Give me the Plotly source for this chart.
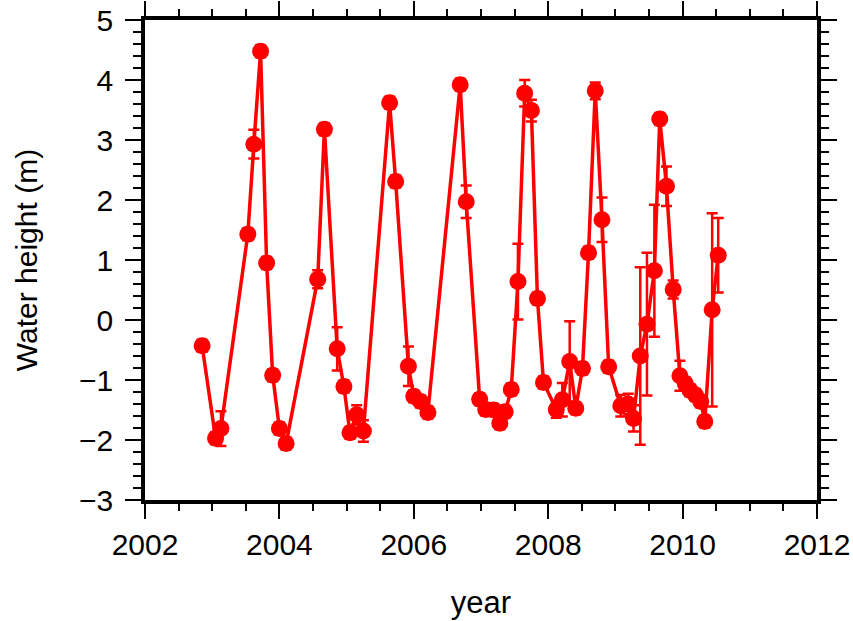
import plotly.graph_objects as go

years = [2002.85, 2003.05, 2003.13, 2003.53, 2003.62, 2003.72, 2003.81, 2003.90, 2004.00, 2004.10,
         2004.57, 2004.67, 2004.86, 2004.96, 2005.05, 2005.15, 2005.25, 2005.64, 2005.73, 2005.92,
         2006.00, 2006.10, 2006.21, 2006.69, 2006.78, 2006.98, 2007.07, 2007.19, 2007.28, 2007.36,
         2007.45, 2007.55, 2007.65, 2007.75, 2007.84, 2007.93, 2008.12, 2008.21, 2008.32, 2008.41,
         2008.51, 2008.60, 2008.70, 2008.80, 2008.90, 2009.08, 2009.19, 2009.27, 2009.37, 2009.47,
         2009.58, 2009.66, 2009.76, 2009.86, 2009.96, 2010.04, 2010.11, 2010.19, 2010.27, 2010.33,
         2010.44, 2010.53]

heights = [-0.43, -1.97, -1.81, 1.43, 2.93, 4.48, 0.95, -0.92, -1.81, -2.06,
           0.68, 3.18, -0.48, -1.11, -1.88, -1.58, -1.85, 3.62, 2.31, -0.77,
           -1.27, -1.36, -1.54, 3.92, 1.97, -1.32, -1.49, -1.50, -1.72, -1.53,
           -1.16, 0.64, 3.78, 3.49, 0.36, -1.04, -1.49, -1.33, -0.69, -1.47,
           -0.81, 1.12, 3.82, 1.67, -0.78, -1.43, -1.40, -1.64, -0.60, -0.07,
           0.82, 3.35, 2.23, 0.51, -0.93, -1.06, -1.17, -1.25, -1.36, -1.69,
           0.17, 1.08]

errors = [0.10, 0.10, 0.29, 0.10, 0.24, 0.10, 0.10, 0.10, 0.10, 0.10,
          0.15, 0.10, 0.36, 0.10, 0.10, 0.16, 0.18, 0.10, 0.10, 0.33,
          0.10, 0.10, 0.10, 0.10, 0.27, 0.10, 0.10, 0.10, 0.10, 0.10,
          0.10, 0.63, 0.22, 0.18, 0.10, 0.10, 0.14, 0.28, 0.67, 0.10,
          0.10, 0.10, 0.14, 0.37, 0.10, 0.18, 0.17, 0.22, 1.48, 1.19,
          1.10, 0.10, 0.33, 0.15, 0.25, 0.10, 0.10, 0.10, 0.10, 0.10,
          1.61, 0.62]

x_ticks = [2002, 2004, 2006, 2008, 2010, 2012]
y_ticks = [-3, -2, -1, 0, 1, 2, 3, 4, 5]

red = "rgb(255,0,0)"

fig = go.Figure()
fig.add_trace(go.Scatter(
    x=years, y=heights, mode="lines+markers",
    line=dict(color=red, width=3.5),
    marker=dict(color=red, size=17),
    error_y=dict(type="data", array=errors, visible=True, color=red, thickness=2.5, width=5.5),
    showlegend=False,
))

font_family = "Liberation Sans, Arial, sans-serif"

fig.update_layout(
    width=853, height=621,
    margin=dict(l=145, r=36, t=20, b=121),
    paper_bgcolor="white", plot_bgcolor="white",
    font=dict(family=font_family, color="black", size=30),
)
fig.update_xaxes(
    range=[2002, 2012], tickvals=x_ticks, ticktext=[str(v) for v in x_ticks],
    showgrid=False, zeroline=False, automargin=False,
    showline=True, linecolor="black", linewidth=3.5, mirror="ticks",
    ticks="outside", ticklen=15, tickwidth=2, tickcolor="black",
    minor=dict(dtick=0.5, ticks="outside", ticklen=7, tickwidth=2, tickcolor="black", showgrid=False),
    tickfont=dict(size=30), ticklabelstandoff=0,
    title=dict(text="year", font=dict(size=31), standoff=33),
)
fig.update_yaxes(
    range=[-3, 5], tickvals=y_ticks, ticktext=[("\u2212" + str(-v)) if v < 0 else str(v) for v in y_ticks],
    showgrid=False, zeroline=False, automargin=False,
    showline=True, linecolor="black", linewidth=3.5, mirror="ticks",
    ticks="outside", ticklen=16, tickwidth=2, tickcolor="black",
    minor=dict(dtick=0.2, ticks="outside", ticklen=8, tickwidth=2, tickcolor="black", showgrid=False),
    tickfont=dict(size=30), ticklabelstandoff=6,
    title=dict(text="Water height (m)", font=dict(size=30), standoff=34),
)

# remove the page's default body margin so the figure sits at the window origin
fig.write_html("out.html", config={"displayModeBar": False},
               post_script="document.body.style.margin='0px';")
